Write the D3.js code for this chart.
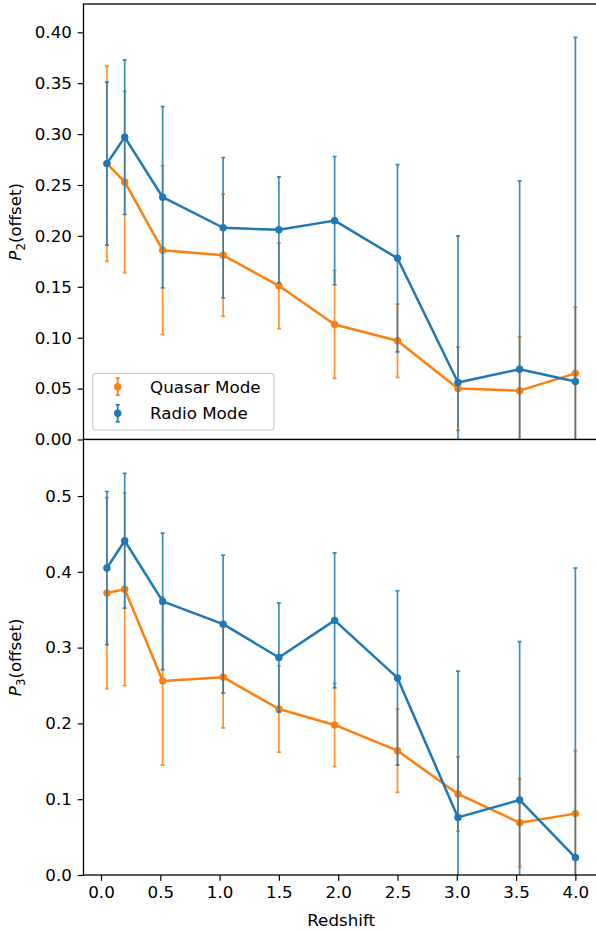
<!DOCTYPE html>
<html>
<head>
<meta charset="utf-8">
<script src="https://cdn.jsdelivr.net/npm/d3@7"></script>
<style>
  html, body { margin: 0; padding: 0; background: #fff; }
  svg { display: block; font-family: "DejaVu Sans", sans-serif; }
</style>
</head>
<body>
<svg id="chart" width="596" height="931"></svg>
<script>
// ---------------- data ----------------
const redshift = [0.05, 0.2, 0.52, 1.03, 1.5, 1.97, 2.5, 3.01, 3.53, 4.0];

const quasarP2    = [0.271, 0.253, 0.186, 0.181, 0.151, 0.113, 0.097, 0.050, 0.048, 0.065];
const quasarP2Err = [0.096, 0.089, 0.083, 0.060, 0.042, 0.053, 0.036, 0.041, 0.053, 0.065];
const radioP2     = [0.271, 0.297, 0.238, 0.208, 0.206, 0.215, 0.178, 0.056, 0.069, 0.057];
const radioP2Err  = [0.080, 0.076, 0.089, 0.069, 0.052, 0.063, 0.092, 0.144, 0.185, 0.338];

const quasarP3    = [0.372, 0.377, 0.256, 0.261, 0.219, 0.198, 0.164, 0.107, 0.069, 0.081];
const quasarP3Err = [0.126, 0.127, 0.111, 0.067, 0.057, 0.055, 0.055, 0.049, 0.058, 0.083];
const radioP3     = [0.405, 0.441, 0.361, 0.331, 0.287, 0.336, 0.260, 0.076, 0.099, 0.023];
const radioP3Err  = [0.101, 0.089, 0.090, 0.091, 0.072, 0.089, 0.115, 0.193, 0.209, 0.382];

const xTicks  = [0.0, 0.5, 1.0, 1.5, 2.0, 2.5, 3.0, 3.5, 4.0];
const p2Ticks = [0.00, 0.05, 0.10, 0.15, 0.20, 0.25, 0.30, 0.35, 0.40];
const p3Ticks = [0.0, 0.1, 0.2, 0.3, 0.4, 0.5];

const seriesNames = ["Quasar Mode", "Radio Mode"];
const colors = ["#ff7f0e", "#1f77b4"];

// ---------------- layout ----------------
const svg = d3.select("#chart");
const L = 83.5, R = 598.8;
const FS = 16.7;
const tickLen = 5.8, tickPad = 5.8;

const x = d3.scaleLinear().domain([-0.1475, 4.1975]).range([L, R]);

const panels = [
  { top: 4, bottom: 439.5, ymax: 0.4278, ticks: p2Ticks, fmt: d3.format(".2f"), sub: "2",
    series: [[quasarP2, quasarP2Err], [radioP2, radioP2Err]], xlabels: false, legend: true },
  { top: 439.5, bottom: 875, ymax: 0.5746, ticks: p3Ticks, fmt: d3.format(".1f"), sub: "3",
    series: [[quasarP3, quasarP3Err], [radioP3, radioP3Err]], xlabels: true, legend: false }
];

panels.forEach((p, pi) => {
  const y = d3.scaleLinear().domain([0, p.ymax]).range([p.bottom, p.top]);
  const g = svg.append("g");
  g.append("rect").attr("x", L).attr("y", p.top).attr("width", R - L).attr("height", p.bottom - p.top)
    .attr("fill", "#fff");

  const clipId = "clip" + pi;
  svg.append("defs").append("clipPath").attr("id", clipId)
    .append("rect").attr("x", L).attr("y", p.top).attr("width", R - L).attr("height", p.bottom - p.top);
  const plot = g.append("g").attr("clip-path", `url(#${clipId})`);

  p.series.forEach(([vals, errs], si) => {
    const c = colors[si];
    const sg = plot.append("g");
    // error bars
    const eb = sg.append("g").attr("stroke", c).attr("stroke-opacity", 0.85).attr("stroke-width", 1.7);
    redshift.forEach((z, i) => {
      const cx = x(z), y1 = y(vals[i] - errs[i]), y2 = y(vals[i] + errs[i]);
      eb.append("line").attr("x1", cx).attr("x2", cx).attr("y1", y1).attr("y2", y2);
      eb.append("line").attr("x1", cx - 2).attr("x2", cx + 2).attr("y1", y1).attr("y2", y1);
      eb.append("line").attr("x1", cx - 2).attr("x2", cx + 2).attr("y1", y2).attr("y2", y2);
    });
    // line
    const line = d3.line().x((d, i) => x(redshift[i])).y(d => y(d));
    sg.append("path").datum(vals).attr("d", line).attr("fill", "none")
      .attr("stroke", c).attr("stroke-width", 2.5).attr("stroke-linejoin", "round");
    // markers
    sg.selectAll("circle").data(vals).join("circle")
      .attr("cx", (d, i) => x(redshift[i])).attr("cy", d => y(d)).attr("r", 3.7).attr("fill", c);
  });

  // y axis
  const yAxis = d3.axisLeft(y).tickValues(p.ticks).tickFormat(p.fmt).tickSize(tickLen).tickPadding(tickPad);
  const ya = g.append("g").attr("transform", `translate(${L},0)`).call(yAxis);
  ya.select(".domain").remove();
  ya.selectAll("line").attr("stroke", "#000").attr("stroke-width", 1.2);
  ya.selectAll("text").attr("font-size", FS).attr("fill", "#000").attr("font-family", "DejaVu Sans");

  // x axis ticks (bottom panel only visible)
  if (p.xlabels) {
    const xAxis = d3.axisBottom(x).tickValues(xTicks).tickFormat(d3.format(".1f")).tickSize(tickLen).tickPadding(tickPad);
    const xa = g.append("g").attr("transform", `translate(0,${p.bottom})`).call(xAxis);
    xa.select(".domain").remove();
    xa.selectAll("line").attr("stroke", "#000").attr("stroke-width", 1.2);
    xa.selectAll("text").attr("font-size", FS).attr("fill", "#000").attr("font-family", "DejaVu Sans");
    g.append("text").attr("x", (L + R) / 2).attr("y", 926).attr("text-anchor", "middle")
      .attr("font-size", FS).text("Redshift");
  }

  // spines
  g.append("rect").attr("x", L).attr("y", p.top).attr("width", R - L).attr("height", p.bottom - p.top)
    .attr("fill", "none").attr("stroke", "#000").attr("stroke-width", 1.3);

  // y label
  const cy = (p.top + p.bottom) / 2;
  const yl = g.append("text").attr("transform", `translate(21,${cy}) rotate(-90)`)
    .attr("text-anchor", "middle").attr("font-size", FS);
  yl.append("tspan").attr("font-style", "italic").text("P");
  yl.append("tspan").attr("font-size", FS * 0.7).attr("dy", 3.5).text(p.sub);
  yl.append("tspan").attr("dy", -3.5).text("(offset)");

  // legend
  if (p.legend) {
    const lg = g.append("g");
    lg.append("rect").attr("x", 92.7).attr("y", 373.3).attr("width", 181.3).attr("height", 56.7)
      .attr("rx", 3).attr("fill", "#fff").attr("fill-opacity", 0.8)
      .attr("stroke", "#cccccc").attr("stroke-width", 1.2);
    seriesNames.forEach((name, i) => {
      const ly = 386.7 + i * 26.6, lx = 117.7, c = colors[i];
      lg.append("line").attr("x1", lx).attr("x2", lx).attr("y1", ly - 8.5).attr("y2", ly + 8.5)
        .attr("stroke", c).attr("stroke-width", 1.7);
      [ly - 8.5, ly + 8.5].forEach(yy => lg.append("line").attr("x1", lx - 2).attr("x2", lx + 2)
        .attr("y1", yy).attr("y2", yy).attr("stroke", c).attr("stroke-width", 1.7));
      lg.append("circle").attr("cx", lx).attr("cy", ly).attr("r", 3.7).attr("fill", c);
      lg.append("text").attr("x", 150).attr("y", ly + 6).attr("font-size", FS).text(name);
    });
  }
});
</script>
</body>
</html>
